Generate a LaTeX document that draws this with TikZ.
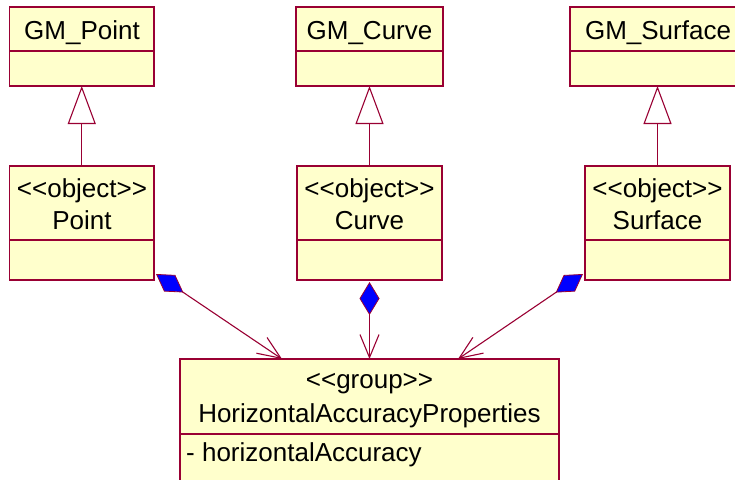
\documentclass[tikz,border=0pt]{standalone}
\usepackage{fontspec}
\setmainfont{Liberation Sans}
\usetikzlibrary{arrows.meta,calc}
\definecolor{umlline}{RGB}{153,0,51}
\definecolor{umlfill}{RGB}{255,255,204}
\newcommand\stereo[1]{<\kern0pt<#1>\kern0pt>}
\begin{document}
\begin{tikzpicture}[x=1pt,y=-1pt,
  box/.style={draw=umlline, fill=umlfill, line width=1.2pt, inner sep=0pt, outer sep=0pt, anchor=north west},
  lbl/.style={anchor=base, inner sep=0pt, font=\fontsize{26}{30}\selectfont},
  gen/.style={draw=umlline, line width=1.1pt, -{Triangle[open, length=38pt, width=28pt, fill=white]}},
  comp/.style={draw=umlline, line width=1.1pt, {Diamond[length=33pt, width=20pt, fill=blue, line width=0.8pt]}-{Straight Barb[length=23pt, width=19pt, line width=1.1pt]}}
]
\useasboundingbox (0,0) rectangle (735,479);
% top row
\node[box, minimum width=144.5pt, minimum height=44pt] (gmpointn) at (9.5,7) {};
\node[box, minimum width=144.5pt, minimum height=35pt] (gmpointa) at (9.5,51) {};
\node[lbl] (gmpointt) at (82,39.3) {GM\_Point};
\node[box, minimum width=147pt, minimum height=44pt] (gmcurven) at (296,7) {};
\node[box, minimum width=147pt, minimum height=35pt] (gmcurvea) at (296,51) {};
\node[lbl] (gmcurvet) at (369.5,39.3) {GM\_Curve};
\node[box, minimum width=176pt, minimum height=44pt] (gmsurfn) at (570,7) {};
\node[box, minimum width=176pt, minimum height=35pt] (gmsurfa) at (570,51) {};
\node[lbl] (gmsurft) at (658,39.3) {GM\_Surface};
% middle row
\node[box, minimum width=144.5pt, minimum height=74pt] (pointn) at (9.5,166) {};
\node[box, minimum width=144.5pt, minimum height=40pt] (pointa) at (9.5,240) {};
\node[lbl] (points) at (82,197) {\stereo{object}};
\node[lbl] (pointt) at (82,229) {Point};
\node[box, minimum width=145pt, minimum height=74pt] (curven) at (297,166) {};
\node[box, minimum width=145pt, minimum height=40pt] (curvea) at (297,240) {};
\node[lbl] (curves) at (369.5,197) {\stereo{object}};
\node[lbl] (curvet) at (369.5,229) {Curve};
\node[box, minimum width=145pt, minimum height=74pt] (surfn) at (585,166) {};
\node[box, minimum width=145pt, minimum height=40pt] (surfa) at (585,240) {};
\node[lbl] (surfs) at (657.5,197) {\stereo{object}};
\node[lbl] (surft) at (657.5,229) {Surface};
% bottom
\node[box, minimum width=379pt, minimum height=75pt] (hapn) at (180,359) {};
\node[box, minimum width=379pt, minimum height=70pt] (hapa) at (180,434) {};
\node[lbl] (haps) at (369.5,388) {\stereo{group}};
\node[lbl] (hapt) at (369.5,422.3) {HorizontalAccuracyProperties};
\node[lbl, anchor=base west] (hapattr) at (186,461.7) {- horizontalAccuracy};
% generalizations
\draw[gen] (pointn.north) -- (pointn.north |- gmpointa.south);
\draw[gen] (curven.north) -- (curven.north |- gmcurvea.south);
\draw[gen] (surfn.north) -- (surfn.north |- gmsurfa.south);
% compositions
\draw[comp] ($(pointa.south east)+(2,-6)$) -- ($(hapn.north west)+(102,0)$);
\draw[comp] ($(curvea.south)+(0,2)$) -- (hapn.north);
\draw[comp] ($(surfa.south west)+(-2,-6)$) -- ($(hapn.north west)+(278,0)$);
\end{tikzpicture}
\end{document}
